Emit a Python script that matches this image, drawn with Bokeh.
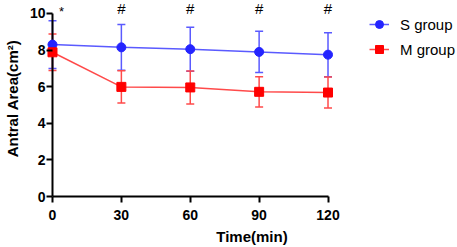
from bokeh.plotting import figure
from bokeh.models import (ColumnDataSource, Whisker, TeeHead, Legend, LegendItem,
                          FixedTicker, Range1d)
from bokeh.core.properties import value
from bokeh.embed import file_html
from bokeh.resources import INLINE

time = [0, 30, 60, 90, 120]
s_mean = [8.30, 8.15, 8.05, 7.90, 7.75]
s_sd = [1.30, 1.25, 1.20, 1.13, 1.20]
m_mean = [7.88, 5.99, 5.96, 5.72, 5.68]
m_sd = [1.00, 0.88, 0.90, 0.83, 0.85]
hash_times = [30, 60, 90, 120]
star_time = [0]
x_ticks = [0, 30, 60, 90, 120]
y_ticks = [0, 2, 4, 6, 8, 10]

FONT = "Liberation Sans"
BLUE = "#2424ff"
BLUE_L = "#5a5aff"
RED = "#ff0000"
RED_L = "#ff4a4a"

src_s = ColumnDataSource(dict(x=time, y=s_mean,
                              up=[m + s for m, s in zip(s_mean, s_sd)],
                              lo=[m - s for m, s in zip(s_mean, s_sd)]))
src_m = ColumnDataSource(dict(x=time, y=m_mean,
                              up=[m + s for m, s in zip(m_mean, m_sd)],
                              lo=[m - s for m, s in zip(m_mean, m_sd)]))

p = figure(width=457, height=247, output_backend="svg", toolbar_location=None,
           x_range=Range1d(-2.61, 176.4), y_range=Range1d(0, 10.71),
           min_border_left=45, min_border_right=0, min_border_top=0,
           min_border_bottom=51)
p.outline_line_color = None
p.xgrid.visible = False
p.ygrid.visible = False
p.background_fill_color = "white"
p.border_fill_color = "white"

for ax in (p.xaxis[0], p.yaxis[0]):
    ax.axis_line_width = 2
    ax.major_tick_line_width = 2
    ax.minor_tick_line_color = None
    ax.major_tick_out = 6
    ax.major_tick_in = 0
    ax.major_label_text_font = FONT
    ax.major_label_text_font_style = "bold"
    ax.major_label_text_font_size = "14px"
    ax.major_label_text_color = "black"
    ax.axis_label_text_font = FONT
    ax.axis_label_text_font_style = "bold"
    ax.axis_label_text_font_size = "15px"
    ax.axis_label_text_color = "black"
    ax.axis_line_color = "black"
    ax.major_tick_line_color = "black"

p.xaxis[0].bounds = (0, 120)
p.xaxis[0].ticker = FixedTicker(ticks=x_ticks)
p.xaxis[0].axis_label = "Time(min)"
p.xaxis[0].major_label_standoff = 7
p.xaxis[0].axis_label_standoff = 5

# y axis: the frame edge sits just left of x=0; ticks drawn inward to x=0
yax = p.yaxis[0]
yax.bounds = (0, 10)
yax.ticker = FixedTicker(ticks=y_ticks)
yax.axis_label = "Antral Area(cm²)"
yax.axis_line_color = None
yax.major_tick_out = 0
yax.major_tick_in = 6
yax.major_label_standoff = 1
yax.axis_label_standoff = 6

# the y axis line itself, at time 0 from 0 to the top tick
p.segment(x0=[time[0]], y0=[y_ticks[0]], x1=[time[0]], y1=[y_ticks[-1]],
          line_color="black", line_width=2)

# error bars
for src, col in ((src_s, BLUE_L), (src_m, RED_L)):
    w = Whisker(source=src, base="x", upper="up", lower="lo", dimension="height",
                line_color=col, line_width=1.5,
                upper_head=TeeHead(size=8, line_color=col, line_width=1.5),
                lower_head=TeeHead(size=8, line_color=col, line_width=1.5))
    p.add_layout(w)

ls = p.line("x", "y", source=src_s, line_color=BLUE_L, line_width=1.5)
cs = p.scatter("x", "y", source=src_s, marker="circle", size=9,
               fill_color=BLUE, line_color=BLUE)
lm = p.line("x", "y", source=src_m, line_color=RED_L, line_width=1.5)
cm = p.scatter("x", "y", source=src_m, marker="square", size=9,
               fill_color=RED, line_color=RED)

p.text(x=hash_times, y=[10.3] * len(hash_times), text=["#"] * len(hash_times),
       text_align="center", text_baseline="middle", text_font=value(FONT),
       text_font_size="15px", text_color="black")
p.text(x=[star_time[0] + 3.9], y=[10.1], text=["*"], text_align="center",
       text_baseline="middle", text_font=value(FONT), text_font_size="13px",
       text_color="black")

legend = Legend(items=[LegendItem(label="S group", renderers=[ls, cs]),
                       LegendItem(label="M group", renderers=[lm, cm])],
                location=(323, 137), padding=0, margin=0, spacing=5,
                glyph_width=20, glyph_height=20, label_standoff=11,
                label_text_font=FONT, label_text_font_size="15px",
                label_text_color="black", border_line_color=None,
                background_fill_alpha=0)
p.add_layout(legend)

open("out.html", "w").write(file_html(p, INLINE))
